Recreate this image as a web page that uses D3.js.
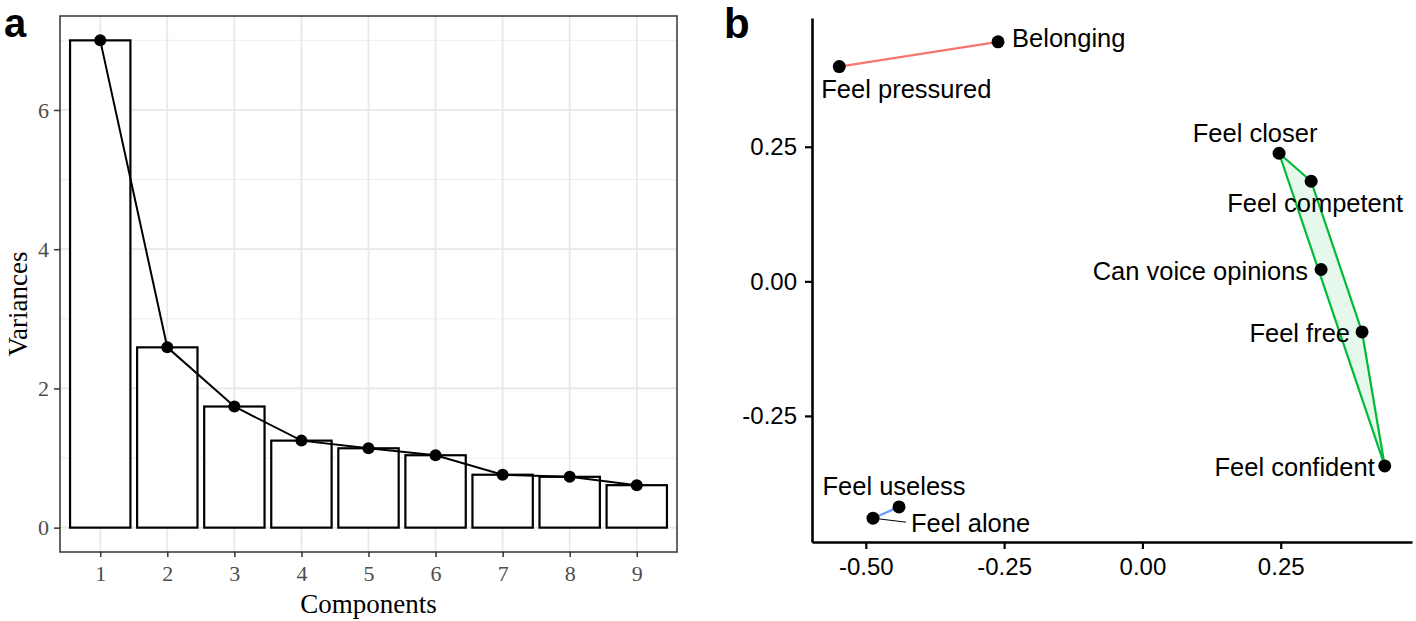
<!DOCTYPE html>
<html>
<head>
<meta charset="utf-8">
<script src="https://cdn.jsdelivr.net/npm/d3@7"></script>
<style>
  html, body { margin: 0; padding: 0; background: #fff; }
  svg { display: block; }
</style>
</head>
<body>
<svg id="chart" width="1416" height="621"></svg>
<script>
// ---------- Panel a data ----------
const components = [1, 2, 3, 4, 5, 6, 7, 8, 9];
const variances = [7.00, 2.59, 1.74, 1.25, 1.14, 1.04, 0.76, 0.73, 0.61];
const aYTicks = [0, 2, 4, 6];
const aYMinor = [1, 3, 5, 7];

// ---------- Panel b data ----------
const items = ["Belonging", "Feel pressured", "Feel closer", "Feel competent", "Can voice opinions",
               "Feel free", "Feel confident", "Feel useless", "Feel alone"];
const dim1 = [-0.261, -0.548, 0.247, 0.305, 0.323, 0.397, 0.438, -0.440, -0.487];
const dim2 = [0.445, 0.399, 0.238, 0.186, 0.022, -0.094, -0.343, -0.419, -0.440];
const cluster = [1, 1, 2, 2, 2, 2, 2, 3, 3];
const clusterColors = ["#F8766D", "#00BA38", "#619CFF"];
const bXTicks = [-0.50, -0.25, 0.00, 0.25];
const bYTicks = [-0.25, 0.00, 0.25];

// label placement (repel-like offsets, px relative to point)
const labelLayout = {
  "Belonging":          {dx: 14,  dy: 5,   anchor: "start"},
  "Feel pressured":     {dx: -18, dy: 31,  anchor: "start"},
  "Feel closer":        {dx: -24, dy: -11, anchor: "middle"},
  "Feel competent":     {dx: 4,   dy: 31,  anchor: "middle"},
  "Can voice opinions": {dx: -13, dy: 10,  anchor: "end"},
  "Feel free":          {dx: -12, dy: 10,  anchor: "end"},
  "Feel confident":     {dx: -10, dy: 10,  anchor: "end"},
  "Feel useless":       {dx: -5,  dy: -12, anchor: "middle"},
  "Feel alone":         {dx: 38,  dy: 14,  anchor: "start", segment: true}
};

const svg = d3.select("#chart");

// ================= Panel a =================
(function () {
  const left = 60, right = 677, top = 16, bottom = 552;
  const x = d3.scaleLinear().domain([0.4, 9.6]).range([left, right]);
  const y = d3.scaleLinear().domain([-0.35, 7.35]).range([bottom, top]);
  const g = svg.append("g");
  const serif = "'Liberation Serif', 'Times New Roman', serif";

  // grid
  g.selectAll("line.minor").data(aYMinor).join("line")
    .attr("x1", left).attr("x2", right)
    .attr("y1", d => y(d)).attr("y2", d => y(d))
    .attr("stroke", "#ebebeb").attr("stroke-width", 0.9);
  g.selectAll("line.majorY").data(aYTicks).join("line")
    .attr("x1", left).attr("x2", right)
    .attr("y1", d => y(d)).attr("y2", d => y(d))
    .attr("stroke", "#e8e8e8").attr("stroke-width", 1.8);
  g.selectAll("line.majorX").data(components).join("line")
    .attr("y1", top).attr("y2", bottom)
    .attr("x1", d => x(d)).attr("x2", d => x(d))
    .attr("stroke", "#e8e8e8").attr("stroke-width", 1.8);

  // bars
  g.selectAll("rect.bar").data(components).join("rect")
    .attr("x", (d) => x(d - 0.45))
    .attr("width", x(1.45) - x(0.55))
    .attr("y", (d, i) => y(variances[i]))
    .attr("height", (d, i) => y(0) - y(variances[i]))
    .attr("fill", "#fff").attr("stroke", "#000").attr("stroke-width", 2.2);

  // line
  g.append("path")
    .datum(components)
    .attr("d", d3.line().x(d => x(d)).y((d, i) => y(variances[i])))
    .attr("fill", "none").attr("stroke", "#000").attr("stroke-width", 2);
  g.selectAll("circle.pt").data(components).join("circle")
    .attr("cx", d => x(d)).attr("cy", (d, i) => y(variances[i]))
    .attr("r", 6).attr("fill", "#000");

  // border
  g.append("rect").attr("x", left).attr("y", top)
    .attr("width", right - left).attr("height", bottom - top)
    .attr("fill", "none").attr("stroke", "#333").attr("stroke-width", 1.5);

  // axes
  const xa = g.append("g").attr("transform", `translate(0,${bottom})`)
    .call(d3.axisBottom(x).tickValues(components).tickFormat(d3.format("d")).tickSize(5).tickPadding(8).tickSizeOuter(0));
  const ya = g.append("g").attr("transform", `translate(${left},0)`)
    .call(d3.axisLeft(y).tickValues(aYTicks).tickFormat(d3.format("d")).tickSize(6).tickPadding(5).tickSizeOuter(0));
  [xa, ya].forEach(a => {
    a.select(".domain").remove();
    a.selectAll(".tick line").attr("stroke", "#333").attr("stroke-width", 1.5);
    a.selectAll(".tick text").attr("fill", "#4d4d4d").style("font-family", serif).style("font-size", "22px");
  });

  g.append("text").attr("x", (left + right) / 2).attr("y", 613)
    .attr("text-anchor", "middle").style("font-family", serif).style("font-size", "27px")
    .text("Components");
  g.append("text").attr("transform", `translate(27,${(top + bottom) / 2 + 20}) rotate(-90)`)
    .attr("text-anchor", "middle").style("font-family", serif).style("font-size", "27px")
    .text("Variances");

  svg.append("text").attr("x", 4).attr("y", 37)
    .style("font-family", "'Liberation Sans', Arial, sans-serif").style("font-weight", "bold").style("font-size", "40px")
    .text("a");
})();

// ================= Panel b =================
(function () {
  const left = 812, right = 1412, top = 18, bottom = 542;
  const sans = "'Liberation Sans', Arial, sans-serif";
  const ex = d3.extent(dim1), ey = d3.extent(dim2);
  const px = (ex[1] - ex[0]) * 0.05, py = (ey[1] - ey[0]) * 0.05;
  const x = d3.scaleLinear().domain([ex[0] - px, ex[1] + px]).range([left, right]);
  const y = d3.scaleLinear().domain([ey[0] - py, ey[1] + py]).range([bottom, top]);
  const g = svg.append("g");

  const pts = items.map((n, i) => ({name: n, x: dim1[i], y: dim2[i], c: cluster[i]}));

  // hulls
  [1, 2, 3].forEach(c => {
    const cp = pts.filter(p => p.c === c).map(p => [x(p.x), y(p.y)]);
    const col = clusterColors[c - 1];
    let poly = cp.length >= 3 ? d3.polygonHull(cp) : cp;
    g.append("path")
      .attr("d", "M" + poly.map(p => p.join(",")).join("L") + "Z")
      .attr("fill", col).attr("fill-opacity", cp.length >= 3 ? 0.1 : 0)
      .attr("stroke", col).attr("stroke-width", 2.2).attr("stroke-linejoin", "round");
  });

  // axes
  const xa = g.append("g").attr("transform", `translate(0,${bottom})`)
    .call(d3.axisBottom(x).tickValues(bXTicks).tickFormat(d3.format(".2f")).tickSize(7).tickPadding(9).tickSizeOuter(0));
  const ya = g.append("g").attr("transform", `translate(${left},0)`)
    .call(d3.axisLeft(y).tickValues(bYTicks).tickFormat(d3.format(".2f")).tickSize(7).tickPadding(8).tickSizeOuter(0));
  [xa, ya].forEach(a => {
    a.select(".domain").attr("stroke", "#000").attr("stroke-width", 2.6);
    a.selectAll(".tick line").attr("stroke", "#000").attr("stroke-width", 2.2);
    a.selectAll(".tick text").attr("fill", "#000").style("font-family", sans).style("font-size", "24px");
  });
  xa.selectAll(".tick text").text(d => d3.format(".2f")(d).replace("−", "-"));
  ya.selectAll(".tick text").text(d => d3.format(".2f")(d).replace("−", "-"));

  // points
  g.selectAll("circle.pt").data(pts).join("circle")
    .attr("cx", d => x(d.x)).attr("cy", d => y(d.y)).attr("r", 6.5).attr("fill", "#000");

  // segments
  pts.filter(p => labelLayout[p.name].segment).forEach(p => {
    g.append("line")
      .attr("x1", x(p.x)).attr("y1", y(p.y))
      .attr("x2", x(p.x) + 33).attr("y2", y(p.y) + 4)
      .attr("stroke", "#000").attr("stroke-width", 1);
  });

  // labels
  g.selectAll("text.lab").data(pts).join("text")
    .attr("x", d => x(d.x) + labelLayout[d.name].dx)
    .attr("y", d => y(d.y) + labelLayout[d.name].dy)
    .attr("text-anchor", d => labelLayout[d.name].anchor)
    .style("font-family", sans).style("font-size", "25.5px").attr("fill", "#000")
    .text(d => d.name);

  svg.append("text").attr("x", 724).attr("y", 38)
    .style("font-family", sans).style("font-weight", "bold").style("font-size", "42px")
    .text("b");
})();
</script>
</body>
</html>
